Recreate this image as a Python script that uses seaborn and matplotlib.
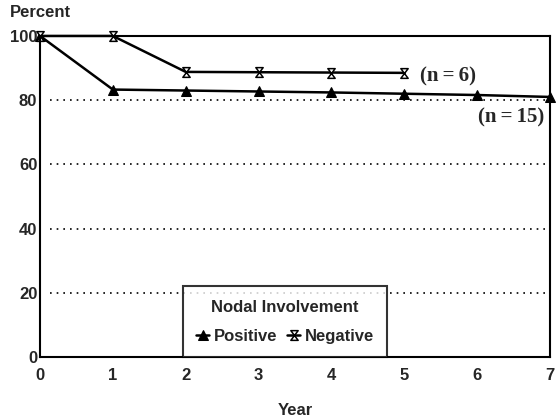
import matplotlib
matplotlib.use("Agg")
import matplotlib.pyplot as plt
import seaborn as sns
import pandas as pd
from matplotlib.path import Path

years = [0, 1, 2, 3, 4, 5, 6, 7]
positive = [100, 83.3, 83.0, 82.7, 82.4, 82.0, 81.6, 81.0]
neg_years = [0, 1, 2, 3, 4, 5]
negative = [100, 100, 88.8, 88.7, 88.6, 88.5]
yticks = [0, 20, 40, 60, 80, 100]
xticks = [0, 1, 2, 3, 4, 5, 6, 7]

sns.set_theme(style="white")
plt.rcParams['font.family'] = ['Liberation Sans', 'DejaVu Sans']

df_pos = pd.DataFrame({"Year": years, "Percent": positive})
df_neg = pd.DataFrame({"Year": neg_years, "Percent": negative})

hourglass = Path([(-0.75, 1), (0.75, 1), (-0.75, -1), (0.75, -1), (-0.75, 1)],
                 [Path.MOVETO, Path.LINETO, Path.LINETO, Path.LINETO, Path.CLOSEPOLY])

fig = plt.figure(figsize=(5.56, 4.18), dpi=100)
ax = fig.add_axes([0.072, 0.146, 0.917, 0.768])

sns.lineplot(data=df_pos, x="Year", y="Percent", ax=ax, color="black", lw=1.8,
             marker="^", markersize=7, markerfacecolor="black", markeredgecolor="black",
             label="Positive", clip_on=False)
sns.lineplot(data=df_neg, x="Year", y="Percent", ax=ax, color="black", lw=1.8,
             marker=hourglass, markersize=7, markerfacecolor="white", markeredgecolor="black",
             markeredgewidth=1.1, label="Negative", clip_on=False)

for y in [20, 40, 60, 80]:
    ax.axhline(y, xmin=0.02, color="black", lw=1.2, ls=(0, (1, 3)), zorder=0)

ax.set_xlim(0, 7)
ax.set_ylim(0, 100)
ax.set_xticks(xticks)
ax.set_yticks(yticks)
ax.set_xticklabels([str(t) for t in xticks], fontsize=12, fontweight="bold")
ax.set_yticklabels([str(t) for t in yticks], fontsize=12, fontweight="bold")
ax.tick_params(axis="x", length=0, pad=8)
ax.tick_params(axis="y", length=0, pad=2)
ax.set_xlabel("Year", fontsize=12, fontweight="bold", labelpad=14)
ax.set_ylabel("")
for s in ax.spines.values():
    s.set_color("black")
    s.set_linewidth(1.5)

fig.text(0.018, 0.97, "Percent", fontsize=12, fontweight="bold", ha="left", va="center")

ax.text(5.22, 87.3, "(n\u2009=\u20096)", family=["Liberation Serif", "DejaVu Serif"], fontsize=15,
        fontweight="bold", ha="left", va="center")
ax.text(6.92, 74.5, "(n\u2009=\u200915)", family=["Liberation Serif", "DejaVu Serif"], fontsize=15,
        fontweight="bold", ha="right", va="center")

leg = ax.legend(title="Nodal Involvement", ncol=2, loc="lower center",
                bbox_to_anchor=(0.48, 0.0), borderaxespad=0,
                frameon=True, fancybox=False, handlelength=0.8, handletextpad=0.25,
                columnspacing=0.6, borderpad=0.8, labelspacing=0.5,
                prop={"size": 12, "weight": "bold"})
leg.get_title().set_fontsize(12)
leg.get_title().set_fontweight("bold")
leg._legend_box.sep = 10
leg.get_frame().set_edgecolor("black")
leg.get_frame().set_linewidth(1.5)

fig.savefig("out.png", dpi=100)
